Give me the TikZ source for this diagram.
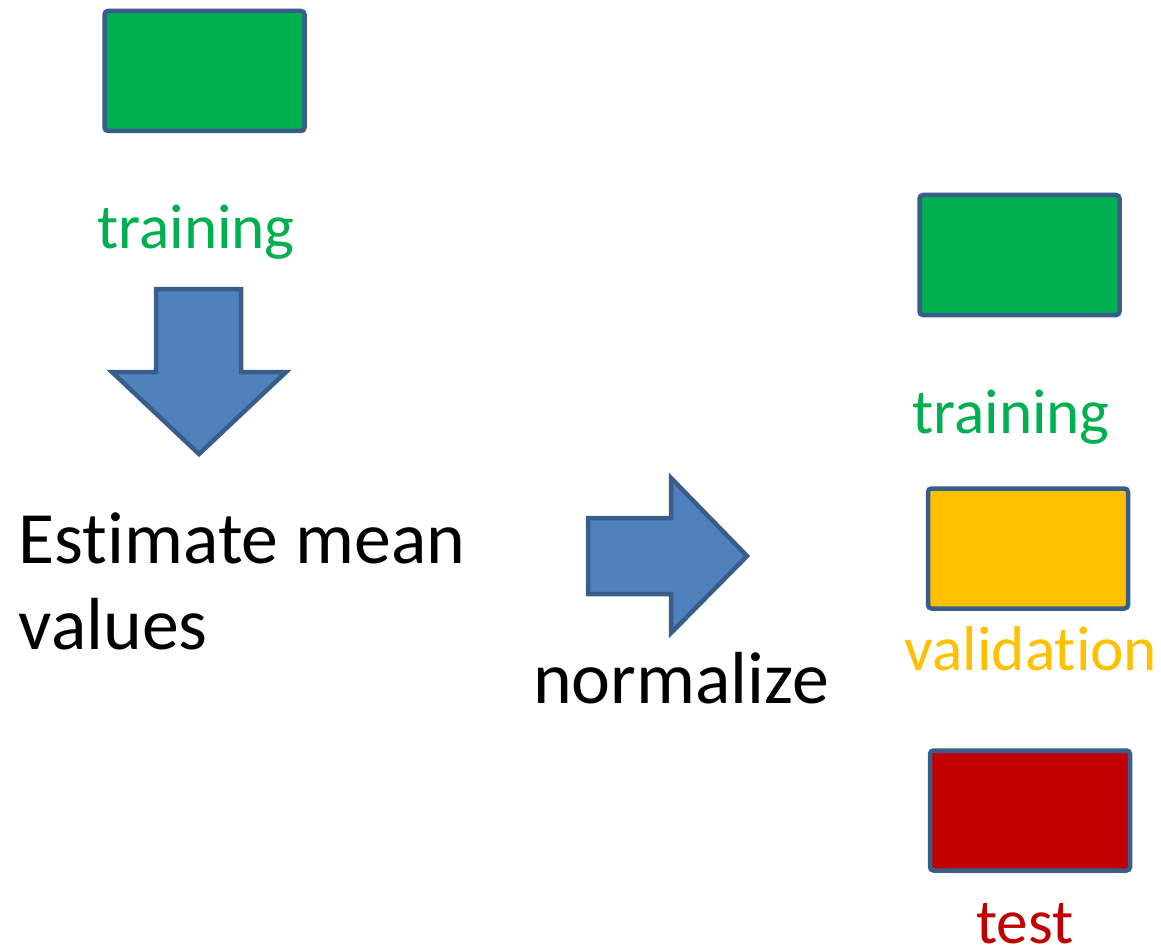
\documentclass[tikz,border=0pt]{standalone}
\usepackage{fontspec}
\setmainfont[Ligatures=NoCommon]{Carlito}
\definecolor{setgreen}{HTML}{00B050}
\definecolor{setyellow}{HTML}{FFC000}
\definecolor{setred}{HTML}{C00000}
\definecolor{edgeblue}{HTML}{385D8A}
\definecolor{arrowblue}{HTML}{4F81BD}
\begin{document}
\begin{tikzpicture}[
  setbox/.style={draw=edgeblue, line width=0.045cm, rounded corners=1pt, inner sep=0pt, minimum width=2.0cm, minimum height=1.2cm},
  setlabel/.style={font=\fontsize{18}{22}\selectfont, anchor=base, inner sep=0pt},
  bigtext/.style={font=\fontsize{21}{24.2}\selectfont, inner sep=0pt},
  blockarrow/.style={draw=edgeblue, line width=0.045cm, fill=arrowblue, line join=miter}
]
  \useasboundingbox (0,0) rectangle (11.61,9.49);

  % === SINISTRA: stima sul training ===
  \node[setbox, fill=setgreen] (trainbox) at (2.045, 8.78) {};
  \node[setlabel, text=setgreen] (trainlabel) at (1.96, 7.01) {training};

  % freccia verso il basso
  \draw[blockarrow] (1.56, 6.60) -- (2.41, 6.60) -- (2.41, 5.77) -- (2.86, 5.77)
    -- (1.99, 4.95) -- (1.12, 5.77) -- (1.56, 5.77) -- cycle;

  \node[bigtext, anchor=base west, align=left] (estimate) at (0.18, 3.00) {Estimate mean\\values};

  % === CENTRO: normalizzazione ===
  \draw[blockarrow] (5.88, 4.31) -- (6.71, 4.31) -- (6.71, 4.71) -- (7.47, 3.93)
    -- (6.71, 3.16) -- (6.71, 3.55) -- (5.88, 3.55) -- cycle;
  \node[bigtext, anchor=base] (normalize) at (6.81, 2.46) {normalize};

  % === DESTRA: i tre insiemi ===
  \node[setbox, fill=setgreen] (trainbox2) at (10.195, 6.94) {};
  \node[setlabel, text=setgreen] (trainlabel2) at (10.11, 5.16) {training};

  \node[setbox, fill=setyellow] (valbox) at (10.28, 4.005) {};
  \node[setlabel, text=setyellow] (vallabel) at (10.31, 2.79) {validation};

  \node[setbox, fill=setred] (testbox) at (10.30, 1.385) {};
  \node[setlabel, text=setred] (testlabel) at (10.25, 0.06) {test};
\end{tikzpicture}
\end{document}
